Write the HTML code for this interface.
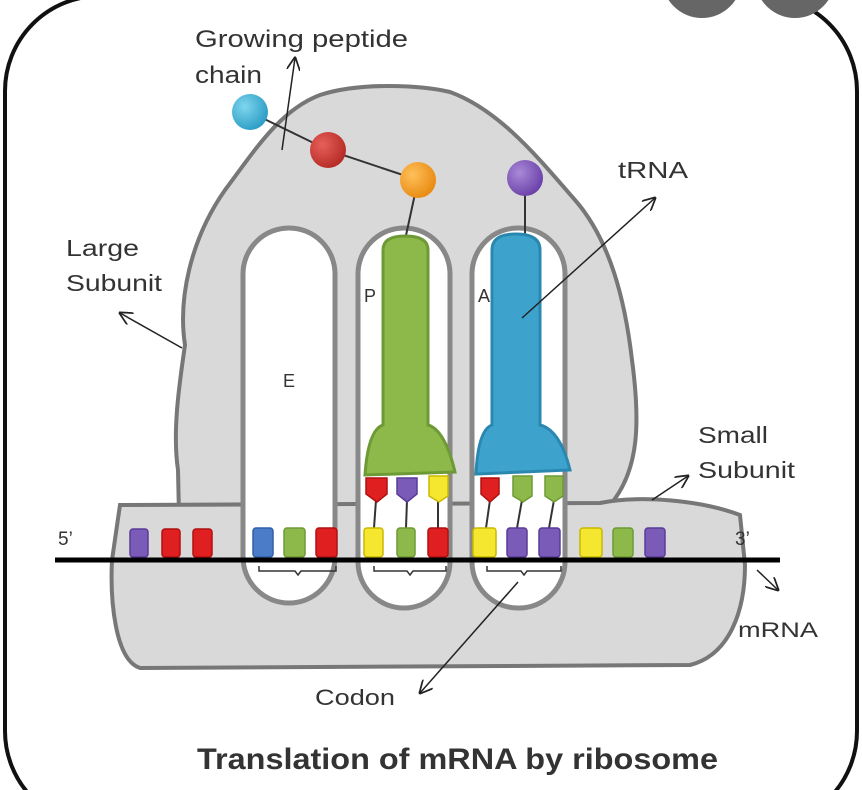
<!DOCTYPE html>
<html><head><meta charset="utf-8"><style>
html,body{margin:0;padding:0;background:#fff;}
svg{display:block;}
text{font-family:"Liberation Sans",sans-serif;fill:#333;}
</style></head><body>
<svg width="862" height="790" viewBox="0 0 862 790" xmlns="http://www.w3.org/2000/svg">
<defs>
<marker id="ar" viewBox="0 0 10 10" refX="9" refY="5" markerWidth="9" markerHeight="9" orient="auto-start-reverse">
<path d="M0,0 L10,5 L0,10" fill="none" stroke="#222" stroke-width="1.3"/></marker>
<radialGradient id="gc" cx="0.35" cy="0.35" r="0.7"><stop offset="0" stop-color="#7fd6ee"/><stop offset="1" stop-color="#2a9cc4"/></radialGradient>
<radialGradient id="gr" cx="0.35" cy="0.35" r="0.7"><stop offset="0" stop-color="#e8605a"/><stop offset="1" stop-color="#b42a24"/></radialGradient>
<radialGradient id="go" cx="0.35" cy="0.35" r="0.7"><stop offset="0" stop-color="#ffc05a"/><stop offset="1" stop-color="#e88a10"/></radialGradient>
<radialGradient id="gp" cx="0.35" cy="0.35" r="0.7"><stop offset="0" stop-color="#a98ad8"/><stop offset="1" stop-color="#6a3fa8"/></radialGradient>
</defs>
<rect x="5" y="-4" width="852" height="830" rx="95" fill="#fff" stroke="#111" stroke-width="4"/>
<circle cx="702" cy="-22" r="40" fill="#666"/>
<circle cx="795" cy="-22" r="40" fill="#666"/>
<path d="M185,345 C178,300 190,240 225,190 C255,150 280,110 320,95 C360,82 420,85 450,92 C500,110 540,160 575,200 C610,240 625,300 632,360 C640,420 640,470 610,505 L610,560 L180,560 L178,470 C172,430 180,380 185,345 Z" fill="#d9d9d9" stroke="#777" stroke-width="4"/>
<path d="M120,505 L600,503 C640,495 700,500 740,515 L745,565 C745,610 730,655 690,665 L140,668 C115,660 110,600 112,560 Z" fill="#d9d9d9" stroke="#777" stroke-width="4"/>
<rect x="243" y="228" width="92" height="375" rx="46" fill="#fff" stroke="#888" stroke-width="5"/>
<rect x="358" y="228" width="92" height="380" rx="46" fill="#fff" stroke="#888" stroke-width="5"/>
<rect x="472" y="228" width="93" height="380" rx="46" fill="#fff" stroke="#888" stroke-width="5"/>
<text x="283" y="387" font-size="18">E</text>
<text x="364" y="302" font-size="18">P</text>
<text x="478" y="302" font-size="18">A</text>
<polyline points="250,112 328,150 418,180" fill="none" stroke="#333" stroke-width="2"/>
<line x1="418" y1="180" x2="405" y2="240" stroke="#333" stroke-width="2"/>
<line x1="525" y1="178" x2="525" y2="240" stroke="#333" stroke-width="2"/>
<circle cx="250" cy="112" r="18" fill="url(#gc)"/>
<circle cx="328" cy="150" r="18" fill="url(#gr)"/>
<circle cx="418" cy="180" r="18" fill="url(#go)"/>
<circle cx="525" cy="178" r="18" fill="url(#gp)"/>
<path d="M383,250 Q383,236 405,236 Q428,236 428,250 L428,425 Q445,430 455,472 L365,475 Q368,430 383,425 Z" fill="#8db84a" stroke="#6e9a36" stroke-width="3"/>
<path d="M492,250 Q492,234 516,234 Q540,234 540,250 L540,425 Q560,430 570,470 L476,474 Q478,430 492,425 Z" fill="#3ea3cc" stroke="#2a88b0" stroke-width="3"/>
<g stroke="#333" stroke-width="2">
<line x1="376" y1="500" x2="374" y2="528"/><line x1="407" y1="500" x2="406" y2="528"/><line x1="438" y1="500" x2="438" y2="528"/>
<line x1="490" y1="500" x2="486" y2="528"/><line x1="522" y1="500" x2="517" y2="528"/><line x1="554" y1="500" x2="549" y2="528"/>
</g>
<g stroke-width="1.5">
<path d="M366,478 h21 v16 l-10,8 l-11,-8 z" fill="#e02020" stroke="#b01010"/>
<path d="M397,478 h20 v16 l-10,8 l-10,-8 z" fill="#7a5cb8" stroke="#5a3c98"/>
<path d="M429,476 h19 v20 l-9,6 l-10,-6 z" fill="#f5e630" stroke="#c8b800"/>
<path d="M481,478 h18 v16 l-9,8 l-9,-8 z" fill="#e02020" stroke="#b01010"/>
<path d="M513,476 h19 v20 l-9,6 l-10,-6 z" fill="#8db84a" stroke="#6e9a36"/>
<path d="M545,476 h18 v20 l-9,6 l-9,-6 z" fill="#8db84a" stroke="#6e9a36"/>
</g>
<g stroke-width="1.5">
<rect x="130" y="529" width="18" height="28" rx="3" fill="#7a5cb8" stroke="#5a3c98"/>
<rect x="162" y="529" width="18" height="28" rx="3" fill="#e02020" stroke="#b01010"/>
<rect x="193" y="529" width="19" height="28" rx="3" fill="#e02020" stroke="#b01010"/>
<rect x="253" y="528" width="20" height="29" rx="3" fill="#4a7cc8" stroke="#3060a8"/>
<rect x="284" y="528" width="21" height="29" rx="3" fill="#8db84a" stroke="#6e9a36"/>
<rect x="316" y="528" width="21" height="29" rx="3" fill="#e02020" stroke="#b01010"/>
<rect x="364" y="528" width="19" height="29" rx="3" fill="#f5e630" stroke="#c8b800"/>
<rect x="397" y="528" width="18" height="29" rx="3" fill="#8db84a" stroke="#6e9a36"/>
<rect x="428" y="528" width="20" height="29" rx="3" fill="#e02020" stroke="#b01010"/>
<rect x="473" y="528" width="23" height="29" rx="3" fill="#f5e630" stroke="#c8b800"/>
<rect x="507" y="528" width="20" height="29" rx="3" fill="#7a5cb8" stroke="#5a3c98"/>
<rect x="539" y="528" width="21" height="29" rx="3" fill="#7a5cb8" stroke="#5a3c98"/>
<rect x="580" y="528" width="22" height="29" rx="3" fill="#f5e630" stroke="#c8b800"/>
<rect x="613" y="528" width="20" height="29" rx="3" fill="#8db84a" stroke="#6e9a36"/>
<rect x="645" y="528" width="20" height="29" rx="3" fill="#7a5cb8" stroke="#5a3c98"/>
</g>
<line x1="55" y1="560" x2="780" y2="560" stroke="#000" stroke-width="5"/>
<g fill="none" stroke="#333" stroke-width="1.5">
<path d="M259,566 v5 h36 l3,4 l3,-4 h35 v-5"/>
<path d="M374,566 v5 h33 l3,4 l3,-4 h33 v-5"/>
<path d="M487,566 v5 h34 l3,4 l3,-4 h34 v-5"/>
</g>
<g stroke="#222" stroke-width="1.5" fill="none" marker-end="url(#ar)">
<line x1="282" y1="150" x2="295" y2="58"/>
<line x1="182" y1="348" x2="120" y2="313"/>
<line x1="522" y1="318" x2="655" y2="198"/>
<line x1="652" y1="500" x2="688" y2="476"/>
<line x1="757" y1="570" x2="778" y2="590"/>
<line x1="518" y1="582" x2="420" y2="693"/>
</g>
<text x="195" y="47" font-size="24" textLength="213" lengthAdjust="spacingAndGlyphs">Growing peptide</text>
<text x="195" y="83" font-size="24" textLength="67" lengthAdjust="spacingAndGlyphs">chain</text>
<text x="66" y="256" font-size="23" textLength="73" lengthAdjust="spacingAndGlyphs">Large</text>
<text x="66" y="291" font-size="23" textLength="96" lengthAdjust="spacingAndGlyphs">Subunit</text>
<text x="618" y="178" font-size="23" textLength="70" lengthAdjust="spacingAndGlyphs">tRNA</text>
<text x="698" y="443" font-size="23" textLength="70" lengthAdjust="spacingAndGlyphs">Small</text>
<text x="698" y="478" font-size="23" textLength="97" lengthAdjust="spacingAndGlyphs">Subunit</text>
<text x="58" y="545" font-size="19">5’</text>
<text x="735" y="545" font-size="19">3’</text>
<text x="738" y="637" font-size="21" textLength="80" lengthAdjust="spacingAndGlyphs">mRNA</text>
<text x="315" y="705" font-size="22" textLength="80" lengthAdjust="spacingAndGlyphs">Codon</text>
<text x="197" y="769" font-size="30" font-weight="bold" fill="#222" textLength="521" lengthAdjust="spacingAndGlyphs">Translation of mRNA by ribosome</text>
</svg>
</body></html>
